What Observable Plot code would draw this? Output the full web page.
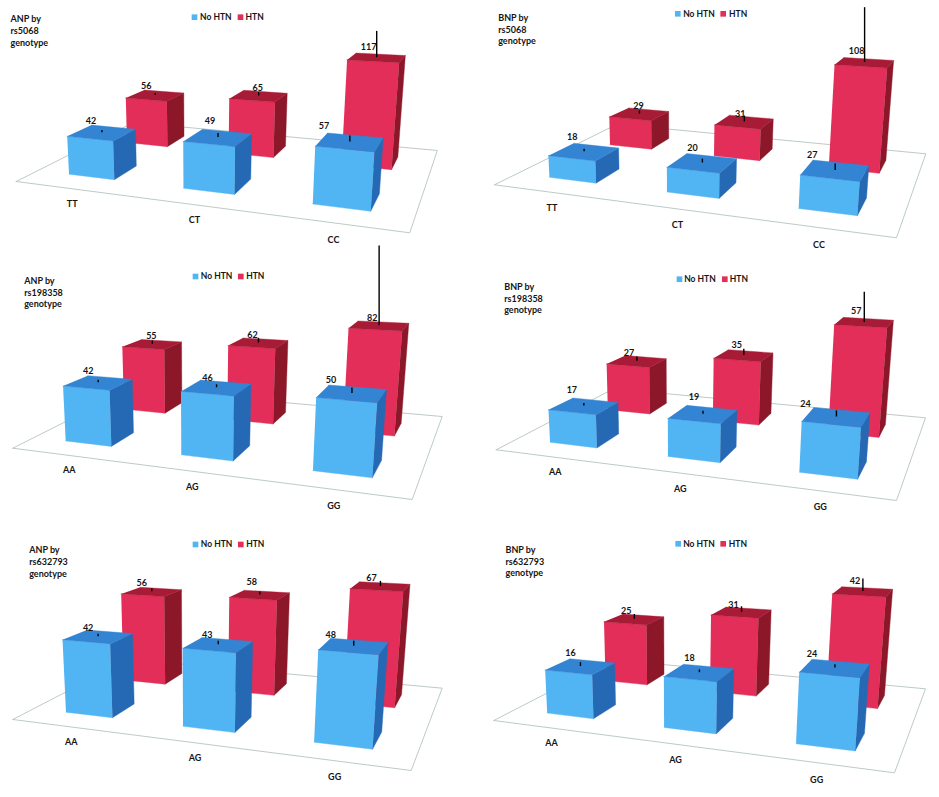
<!DOCTYPE html>
<html>
<head>
<meta charset="utf-8">
<style>
  html, body { margin: 0; padding: 0; background: #fff; }
  #chart { position: relative; width: 939px; height: 797px; overflow: hidden; }
  #chart svg { position: absolute; overflow: visible; background: transparent; }
</style>
<script src="https://cdn.jsdelivr.net/npm/d3@7"></script>
<script src="https://cdn.jsdelivr.net/npm/@observablehq/plot@0.6"></script>
</head>
<body>
<div id="chart"></div>
<script>
// ---- Data ----
const peptides = ["ANP", "BNP"];
const snps = ["rs5068", "rs198358", "rs632793"];
const genotypes = [["TT", "CT", "CC"], ["AA", "AG", "GG"], ["AA", "AG", "GG"]];
const series = ["No HTN", "HTN"];

const anpNoHtn = [[42, 49, 57], [42, 46, 50], [42, 43, 48]];
const anpHtn   = [[56, 65, 117], [55, 62, 82], [56, 58, 67]];
const bnpNoHtn = [[18, 20, 27], [17, 19, 24], [16, 18, 24]];
const bnpHtn   = [[29, 31, 108], [27, 35, 57], [25, 31, 42]];

// error bars (estimated, upper arm only is visible)
const anpNoHtnErr = [[2.6, 4.2, 5.9], [1.9, 2.3, 4], [1.4, 1.9, 2.5]];
const anpHtnErr   = [[2.6, 4.1, 28.5], [3.1, 4.1, 63], [1.9, 1.8, 2.9]];
const bnpNoHtnErr = [[2.8, 4, 6.2], [1.4, 1.5, 2.9], [1.5, 1, 1.1]];
const bnpHtnErr   = [[4, 6.9, 58], [2.5, 3.5, 15.5], [2.1, 2.3, 4.8]];

// ---- Layout of the six perspective panels (page pixels) ----
const panelBoxes = [
  {ox: 0,   oy: 0,   w: 470, h: 245},
  {ox: 470, oy: 0,   w: 469, h: 245},
  {ox: 0,   oy: 245, w: 470, h: 270},
  {ox: 470, oy: 245, w: 469, h: 270},
  {ox: 0,   oy: 515, w: 470, h: 282},
  {ox: 470, oy: 515, w: 469, h: 282}
];
const floors = [ // front-left, front-right, back-right, back-left
  [[15.7, 181], [409.3, 232.3], [436.8, 150], [133, 122]],
  [[494, 184.3], [896, 237.3], [925.3, 153.3], [616.7, 123.7]],
  [[12.3, 447.7], [411.7, 499], [441.7, 416], [130, 388.5]],
  [[495.7, 449.3], [896, 500], [925, 417.3], [613, 388.3]],
  [[12.3, 719], [410.7, 770], [441.7, 687.7], [128.7, 658.7]],
  [[493.3, 720], [894, 772.3], [925, 688.3], [611.3, 659.3]]
];
const heightScale = [0.00034, 0.00035, 0.00045, 0.00072, 0.00064, 0.00096];
const heightBase  = [0, 5.5, 3.5, 0, 0, 0.8];
const titleAt = [[10, 13.5], [497.7, 12], [23.7, 275], [503.7, 281], [28.7, 544.5], [505, 544]];
const legendAt = [ // blue square x, blue text x, red square x, red text x, y
  [194, 199.6, 240, 245, 16.7],
  [677.3, 682.7, 722.7, 728.5, 13.3],
  [195, 200.3, 240.3, 245.7, 276],
  [679, 683.7, 724.3, 729.3, 278.7],
  [195, 200.3, 240.3, 245.7, 544],
  [677.7, 682.7, 722.7, 728.3, 543.3]
];
const labelNudge = [ // No HTN x3, HTN x3
  [[-11,-12],[-8,-16],[-26,-16],[-9,-9],[-1,-8],[-8,-11]],
  [[-12,-15],[-10,-15],[-23,-15],[-1,-8],[-4,-8],[-8,-11]],
  [[-10,-12],[-9,-10],[-21,-13],[-1,-8],[-6,-8],[-7,-8]],
  [[-12,-16],[-9,-17],[-31,-13],[-8,-8],[-7,-10],[-8,-11]],
  [[-10,-9],[-11,-10],[-23,-11],[-10,-9],[-8,-13],[-9,-8]],
  [[-10,-13],[-10,-15],[-23,-14],[-8,-8],[-8,-7],[-8,-11]]
];
const barStart = 0.29, barSize = 0.41;          // in category units
const depthStart = 0.30, depthSize = 0.38;      // in series-depth units
const genotypeU = [0.225, 0.54, 0.855], genotypeV = -0.14;
const vanish = [182, 2686];                     // vertical vanishing point, from floor corner

const faceDomain = ["No HTN", "HTN", "No HTN top", "HTN top", "No HTN side", "HTN side"];
const faceRange  = ["#52b5f3", "#e22e58", "#3384d2", "#a71b36", "#2568b3", "#8c1729"];
const FONT = "Lato, 'Open Sans', sans-serif";

// Floor homography: (U, V) in unit square -> homogeneous page coordinates
function homography([p0, p1, p2, p3]) {
  const dx1 = p1[0] - p2[0], dx2 = p3[0] - p2[0], sx = p0[0] - p1[0] + p2[0] - p3[0];
  const dy1 = p1[1] - p2[1], dy2 = p3[1] - p2[1], sy = p0[1] - p1[1] + p2[1] - p3[1];
  const det = dx1 * dy2 - dx2 * dy1;
  const g = (sx * dy2 - dx2 * sy) / det, h = (dx1 * sy - sx * dy1) / det;
  const a = p1[0] - p0[0] + g * p1[0], b = p3[0] - p0[0] + h * p3[0], c = p0[0];
  const d = p1[1] - p0[1] + g * p1[1], e = p3[1] - p0[1] + h * p3[1], f = p0[1];
  return (U, V) => [a * U + b * V + c, d * U + e * V + f, g * U + h * V + 1];
}

function makeProjection(index) {
  const floor = floors[index];
  const H = homography(floor);
  const Vx = floor[0][0] + vanish[0], Vy = floor[0][1] + vanish[1];
  // u: category units (0..3), v: series depth (0..2), z: chart value
  return (u, v, z) => {
    const [nx, ny, D] = H(u / 3, v / 2);
    const w = z === 0 ? 0 : -heightScale[index] * (z + heightBase[index]);
    return [(nx + w * Vx) / (D + w), (ny + w * Vy) / (D + w)];
  };
}

function drawPanel(peptideIndex, snpIndex) {
  const index = snpIndex * 2 + peptideIndex;
  const box = panelBoxes[index];
  const P = makeProjection(index);
  const values = peptideIndex === 0 ? [anpNoHtn[snpIndex], anpHtn[snpIndex]] : [bnpNoHtn[snpIndex], bnpHtn[snpIndex]];
  const errors = peptideIndex === 0 ? [anpNoHtnErr[snpIndex], anpHtnErr[snpIndex]] : [bnpNoHtnErr[snpIndex], bnpHtnErr[snpIndex]];

  const facePoints = [[], []], whiskers = [[], []], labels = [];
  series.forEach((name, s) => {
    genotypes[snpIndex].forEach((g, c) => {
      const val = values[s][c], err = errors[s][c];
      const u0 = c + barStart, u1 = u0 + barSize, v0 = s + depthStart, v1 = v0 + depthSize;
      const faces = [
        {face: name,           pts: [[u0, v0, 0], [u1, v0, 0], [u1, v0, val], [u0, v0, val]]},
        {face: name + " side", pts: [[u1, v0, 0], [u1, v1, 0], [u1, v1, val], [u1, v0, val]]},
        {face: name + " top",  pts: [[u0, v0, val], [u1, v0, val], [u1, v1, val], [u0, v1, val]]}
      ];
      for (const {face, pts} of faces) {
        for (const pt of pts) {
          const [x, y] = P(...pt);
          facePoints[s].push({id: `${g}-${face}`, face, x, y});
        }
      }
      const [tx, ty] = P((u0 + u1) / 2, (v0 + v1) / 2, val);
      const [, ey] = P((u0 + u1) / 2, (v0 + v1) / 2, val + err);
      whiskers[s].push({x: tx, y1: ty, y2: ey});
      const nudge = labelNudge[index][s * 3 + c];
      labels.push({x: tx + nudge[0], y: ty + nudge[1], text: String(val)});
    });
  });

  const floorLine = [0, 1, 2, 3, 0].map(i => {
    const [x, y] = floors[index][i];
    return {x, y};
  });
  const genotypeLabels = genotypes[snpIndex].map((g, c) => {
    const [x, y] = P(genotypeU[c] * 3, genotypeV * 2, 0);
    return {x, y, text: g};
  });
  const lg = legendAt[index];
  const legendSquares = [{x: lg[0], y: lg[4], face: series[0]}, {x: lg[2], y: lg[4], face: series[1]}];
  const legendText = [{x: lg[1], y: lg[4], text: series[0]}, {x: lg[3], y: lg[4], text: series[1]}];
  const title = [{x: titleAt[index][0], y: titleAt[index][1], text: `${peptides[peptideIndex]} by\n${snps[snpIndex]}\ngenotype`}];

  const faceMark = s => Plot.line(facePoints[s], {
    x: "x", y: "y", z: "id", fill: "face", stroke: "face", strokeWidth: 0.4, curve: "linear"
  });
  const whiskerMark = s => Plot.ruleX(whiskers[s], {
    x: "x", y1: "y1", y2: "y2", stroke: "#000", strokeWidth: 1.4
  });
  const textStyle = {fontFamily: FONT, fontWeight: 700, fill: "#151515", fontSize: 9};

  const svg = Plot.plot({
    width: box.w, height: box.h, margin: 0,
    x: {domain: [box.ox, box.ox + box.w], range: [0, box.w], axis: null},
    y: {domain: [box.oy, box.oy + box.h], range: [0, box.h], axis: null},
    color: {domain: faceDomain, range: faceRange},
    style: {background: "transparent", overflow: "visible"},
    marks: [
      Plot.line(floorLine, {x: "x", y: "y", stroke: "#b4c4c0", strokeWidth: 0.9, curve: "linear"}),
      Plot.text(genotypeLabels, {x: "x", y: "y", text: "text", ...textStyle}),
      faceMark(1), whiskerMark(1),
      faceMark(0), whiskerMark(0),
      Plot.text(labels, {x: "x", y: "y", text: "text", ...textStyle}),
      Plot.dot(legendSquares, {x: "x", y: "y", fill: "face", stroke: null, symbol: "square", r: 3.2}),
      Plot.text(legendText, {x: "x", y: "y", text: "text", textAnchor: "start", ...textStyle, fontSize: 8.5}),
      Plot.text(title, {x: "x", y: "y", text: "text", textAnchor: "start", lineAnchor: "top", lineHeight: 1.3, ...textStyle})
    ]
  });
  svg.style.left = box.ox + "px";
  svg.style.top = box.oy + "px";
  document.getElementById("chart").appendChild(svg);
}

snps.forEach((_, snpIndex) => peptides.forEach((_, peptideIndex) => drawPanel(peptideIndex, snpIndex)));
</script>
</body>
</html>
